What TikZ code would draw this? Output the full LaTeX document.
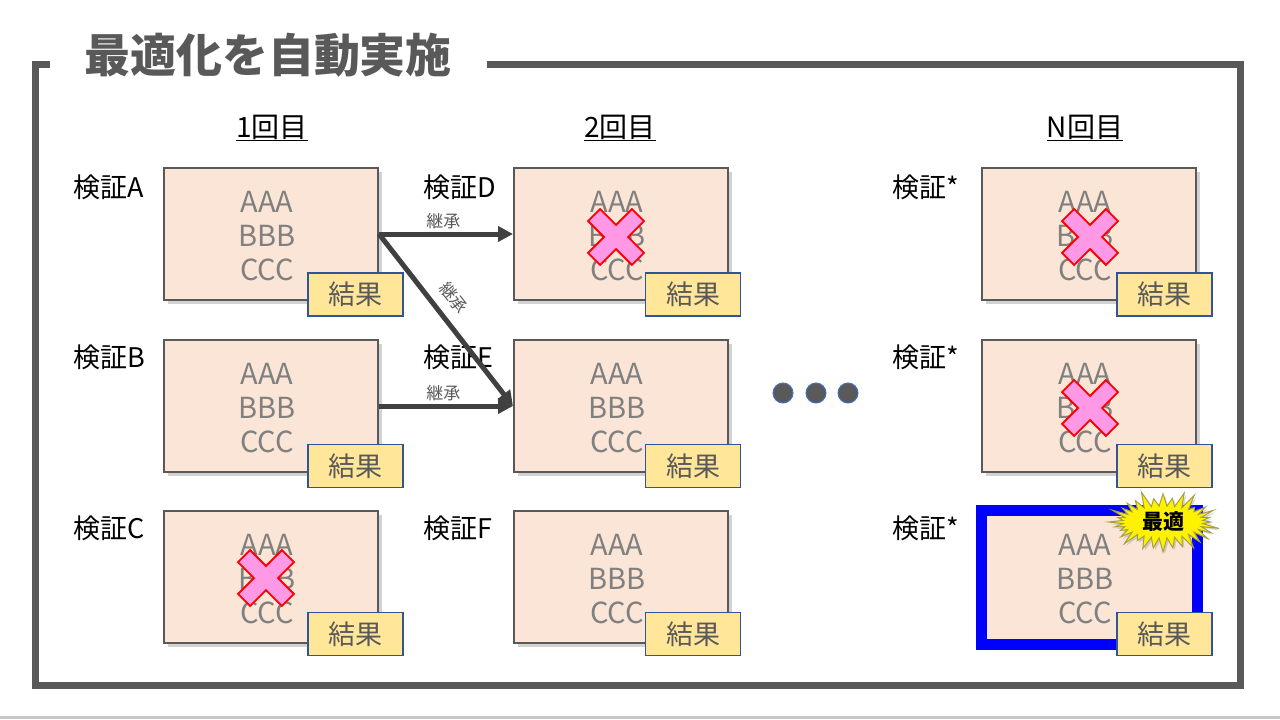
\documentclass[tikz,border=0pt]{standalone}
\usepackage{fontspec}
\setmainfont{Noto Sans CJK JP}
\usetikzlibrary{shadows,shapes.symbols,arrows.meta}
\definecolor{framegray}{HTML}{595959}
\definecolor{boxfill}{HTML}{FBE5D6}
\definecolor{boxtext}{HTML}{808080}
\definecolor{tagfill}{HTML}{FFE699}
\definecolor{tagdraw}{HTML}{2F5597}
\definecolor{arrgray}{HTML}{404040}
\definecolor{xfill}{HTML}{FF99E6}
\definecolor{dotblue}{HTML}{4472C4}
\newcommand\myfs[2]{\fontsize{#1}{#2}\selectfont}
\begin{document}
\begin{tikzpicture}[x=1pt,y=-1pt,
  box/.style={draw=framegray, line width=2pt, fill=boxfill, minimum width=214pt, minimum height=132pt,
    inner sep=0pt,
    drop shadow={shadow xshift=4pt, shadow yshift=-4pt, opacity=0.35, fill=gray}},
  boxtxt/.style={inner sep=0pt, align=center, text=boxtext, font=\myfs{29}{34}},
  tagbox/.style={draw=tagdraw, line width=1.8pt, fill=tagfill, minimum width=95pt, minimum height=43pt,
    inner sep=0pt, text=framegray, font=\myfs{27}{27}},
  lbl/.style={anchor=west, inner sep=0pt, font=\myfs{27}{27}, text=black},
  hdr/.style={inner sep=0pt, font=\myfs{28}{28}, text=black},
  inh/.style={font=\myfs{17}{17}, text=framegray, inner sep=3pt},
  arr/.style={draw=arrgray, line width=5pt, -{Triangle[length=15pt,width=15pt]}},
  dot/.style={circle, fill=framegray, draw=dotblue, line width=1pt, minimum size=20pt, inner sep=0pt},
  xmk/.pic={\draw[fill=xfill, draw=red, line width=1.8pt, rotate=45]
     (8.5,8.5)--(31,8.5)--(31,-8.5)--(8.5,-8.5)--(8.5,-31)--(-8.5,-31)--(-8.5,-8.5)--(-31,-8.5)
     --(-31,8.5)--(-8.5,8.5)--(-8.5,31)--(8.5,31)--cycle;}
]
\useasboundingbox (0,0) rectangle (1280,720);
\fill[white] (0,0) rectangle (1280,720);
% bottom slide edge
\draw[draw=black!22, line width=3pt] (0,717.5) -- (1280,717.5);
% frame
\draw[framegray, line width=7pt] (50,64) -- (35,64) -- (35,685) -- (1240,685) -- (1240,64) -- (487,64);
\node[inner sep=0pt, text=framegray, font=\myfs{46}{46}\bfseries] (title) at (268,55) {最適化を自動実施};
% headers
\node[hdr] (h1) at (272,128) {\underline{1回目}};
\node[hdr] (h2) at (620,128) {\underline{2回目}};
\node[hdr] (h3) at (1085,128) {\underline{N回目}};
% boxes
\foreach \c/\x in {1/163,2/513,3/981}
  \foreach \r/\y in {1/167,2/339,3/510}{
    \node[box, anchor=north west] (b\c\r) at (\x,\y) {};
    \node[boxtxt] (t\c\r) at ([xshift=-4pt,yshift=-2pt]b\c\r.center) {AAA\\BBB\\CCC};
  }
\draw[blue, line width=11pt] (b33.north west) rectangle (b33.south east);
% labels
\node[lbl] (l11) at (73,187) {検証A};
\node[lbl] (l12) at (73,357) {検証B};
\node[lbl] (l13) at (73,528) {検証C};
\node[lbl] (l21) at (423,187) {検証D};
\node[lbl] (l22) at (423,357) {検証E};
\node[lbl] (l23) at (423,528) {検証F};
\node[lbl] (l31) at (892,187) {検証*};
\node[lbl] (l32) at (892,357) {検証*};
\node[lbl] (l33) at (892,528) {検証*};
% x marks
\pic at (616,237) {xmk};
\pic at (266,578) {xmk};
\pic at (1090,237) {xmk};
\pic at (1090,408) {xmk};
% tags
\foreach \c/\x in {1/355.5,2/693,3/1164.5}
  \foreach \r/\y in {1/294.5,2/466,3/634}
    \node[tagbox] (g\c\r) at (\x,\y) {結果};
% arrows
\draw[arr] (b11.east) -- node[inh, above, pos=0.48] (a1) {継承} (b21.west);
\draw[arr] (b11.east) -- (b22.west);
\node[inh, rotate=-51.7] (a2) at (454,298) {継承};
\draw[arr] (b12.east) -- node[inh, above, pos=0.48] (a3) {継承} (b22.west);
% dots
\node[dot] (d1) at (783,393) {};
\node[dot] (d2) at (816,393) {};
\node[dot] (d3) at (848,393) {};
% burst
\node[starburst, starburst points=32, starburst point height=17pt,
  fill=yellow, draw=black!40!yellow, line width=1pt, minimum width=114pt, minimum height=66pt,
  inner sep=0pt, font=\myfs{21}{21}\bfseries, text=black,
  drop shadow={shadow xshift=2pt, shadow yshift=-2pt, opacity=0.3, fill=gray}] (opt) at (1163,522) {最適};
\end{tikzpicture}
\end{document}
